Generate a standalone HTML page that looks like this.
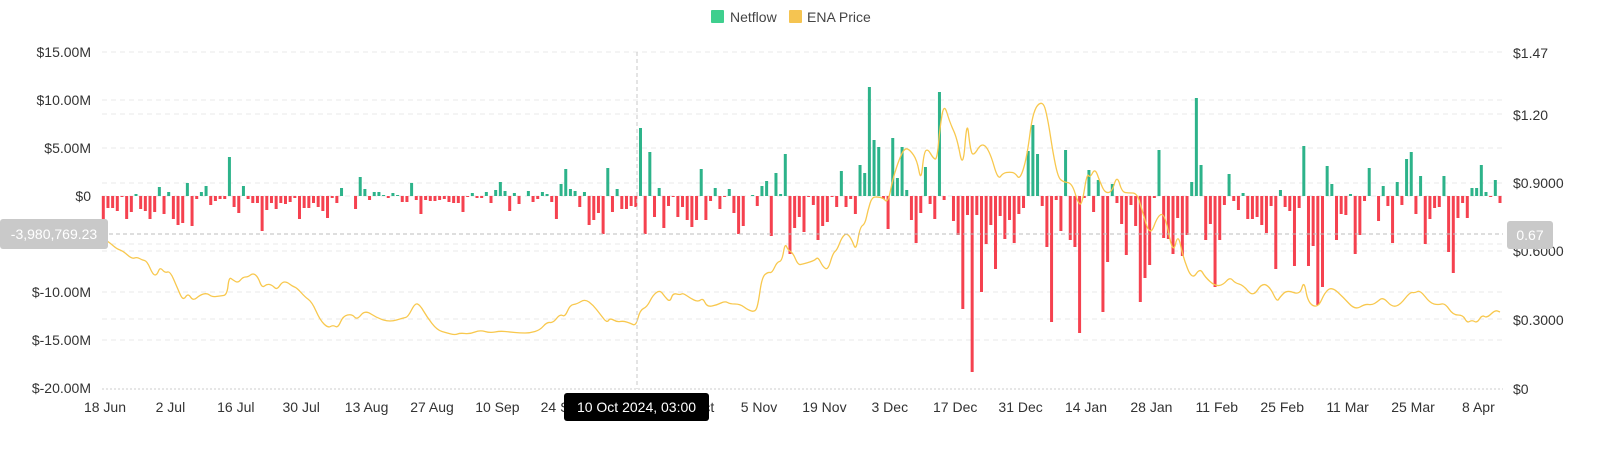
<!DOCTYPE html>
<html><head><meta charset="utf-8">
<style>
html,body{margin:0;padding:0;background:#fff;}
body{width:1600px;height:454px;overflow:hidden;font-family:"Liberation Sans",sans-serif;}
svg text{font-family:"Liberation Sans",sans-serif;}
</style></head>
<body>
<svg id="c" width="1600" height="454" viewBox="0 0 1600 454" xmlns="http://www.w3.org/2000/svg">
<g id="grid"></g>
<g id="bars"></g>
<path id="price" fill="none" stroke="#f8c84e" stroke-width="1.3" stroke-linejoin="round"/>
<g id="labels" font-size="14" fill="#333"></g>
<!-- legend -->
<rect x="711" y="10" width="13" height="13" fill="#3ecf8e" rx="1"/>
<text x="730" y="22" font-size="14" fill="#444">Netflow</text>
<rect x="789" y="10" width="13" height="13" fill="#f5c451" rx="1"/>
<text x="807" y="22" font-size="14" fill="#444">ENA Price</text>
<!-- crosshair -->
<line x1="637" y1="52" x2="637" y2="389" stroke="#c8c8c8" stroke-dasharray="4,3" stroke-width="1"/>
<line x1="102" y1="234" x2="1503" y2="234" stroke="#bdbdbd" stroke-dasharray="4,3" stroke-width="1"/>
<rect x="0" y="219" width="108" height="30" rx="3" fill="#c9c9c9"/>
<text x="54" y="239" font-size="14" fill="#fff" text-anchor="middle">-3,980,769.23</text>
<rect x="1507" y="221" width="46" height="28" rx="3" fill="#c9c9c9"/>
<text x="1530" y="240" font-size="14" fill="#fff" text-anchor="middle">0.67</text>
<g id="tip"></g>
</svg>
<script>
var NS="http://www.w3.org/2000/svg";
function el(t,a,p,txt){var e=document.createElementNS(NS,t);for(var k in a)e.setAttribute(k,a[k]);if(txt!=null)e.textContent=txt;document.getElementById(p).appendChild(e);return e;}
// grid
[52,100,114,148,183,196,244,251,292,319,340].forEach(function(y){
 el('line',{x1:102,x2:1503,y1:y,y2:y,stroke:'#e8e8e8','stroke-dasharray':'5,4','stroke-width':1},'grid');});
el('line',{x1:102,x2:1503,y1:389,y2:389,stroke:'#dedede','stroke-dasharray':'2,2','stroke-width':1.5},'grid');
// bars (pixel heights, + up)
var h=[-24,-12,-12,-15,-1,-23,-16,2,-13,-15,-23,-16,9,-18,4,-23,-29,-27,13,-30,-3,4,10,-9,-5,-3,-3,39,-11,-17,10,-3,-7,-7,-35,-14,-7,-13,-7,-8,-6,-2,-23,-12,-12,-7,-11,-15,-22,-2,-7,8,0,0,-13,19,7,-4,4,4,1,-2,3,1,-6,-6,13,-4,-18,-4,-5,-5,-4,-3,-6,-7,-7,
-16,-1,3,-2,-2,4,-7,6,14,5,-15,3,-8,0,5,-6,-3,4,2,-6,-23,12,27,7,5,-11,4,-29,-24,-17,-38,28,-16,7,-13,-13,-10,-11,68,-38,44,-21,8,-32,-10,-1,-21,-11,-24,-31,-24,27,-24,-5,8,-13,-1,7,-17,-38,-30,0,1,-10,10,15,-40,23,2,42,-58,-32,-21,-36,-1,
-9,-44,-30,-26,-1,-11,25,-11,-3,-18,31,23,109,56,49,-3,-33,58,18,49,6,-24,-47,-17,29,-8,-23,104,-4,0,-25,-39,-113,-19,-176,-19,-96,-48,-29,-73,-20,-43,-24,-47,-18,-12,45,71,42,-10,-51,-126,-4,-35,46,-44,-51,-137,-2,26,-16,16,-116,-66,12,-7,-28,-59,-9,-30,-106,-82,-69,-2,46,-42,-43,-58,-22,-60,-39,14,98,
31,-44,-28,-91,-44,-9,22,-5,-14,3,-23,-23,-21,-29,-37,-10,-73,6,-11,-15,-70,-12,50,-70,-50,-109,-91,30,12,-44,-18,-19,2,-58,-39,-5,28,0,-25,10,-10,-47,14,-9,37,44,-18,20,-48,-23,-12,-11,20,-56,-77,-22,-7,-22,8,8,31,4,-1,16,-7];
var step=(1500-103.3)/(h.length-1);
h.forEach(function(v,i){
 if(v===0)return;var cx=103.3+i*step;
 if(v>0)el('rect',{x:(cx-1.5).toFixed(2),y:196-v,width:3,height:v,fill:'#2db38a'},'bars');
 else el('rect',{x:(cx-1.5).toFixed(2),y:196,width:3,height:-v,fill:'#f5414f'},'bars');
});
// price
var p=[103,238,110,243,117,249,123,251,132,259,137,257,142,260,147,261,153,275,157,275,160,267,165,273,170,271,177,287,183,301,188,293,193,301,200,295,207,293,212,297,220,296,227,295,229,277,233,280,238,283,243,277,248,277,253,273,258,277,262,288,267,284,272,285,277,290,282,282,287,282,292,286,297,288,305,297,312,302,320,320,328,328,333,325,338,328,343,316,352,314,357,320,365,310,377,318,390,322,403,318,408,317,415,303,420,305,427,317,437,330,447,333,455,335,460,333,
470,334,480,330,490,333,500,331,510,332,520,333,530,333,540,330,547,322,553,323,560,314,565,317,570,305,577,304,585,299,593,305,600,314,607,323,610,318,617,322,623,321,630,323,636,326,640,310,647,307,653,295,660,290,665,297,670,302,673,293,680,295,683,293,690,298,698,302,703,298,707,307,717,305,725,301,730,304,740,304,748,310,755,312,758,305,762,277,768,272,772,273,777,262,782,261,785,243,788,250,793,253,798,265,803,264,810,262,
815,260,818,257,823,267,828,270,833,253,837,250,842,237,847,233,852,240,856,251,860,227,865,224,868,210,872,197,878,197,883,198,888,203,893,178,900,157,905,148,910,150,917,160,921,182,924,152,928,149,933,158,937,160,940,127,944,103,950,123,957,138,963,170,967,119,970,147,973,157,982,142,990,152,998,180,1003,173,1010,172,1015,173,1020,180,1027,157,1033,110,1043,100,1048,120,1053,153,1058,177,1063,182,1072,183,1078,203,1082,205,1087,173,1090,178,1095,168,1100,182,1105,193,1112,192,1117,175,1122,192,1128,193,1137,193,1142,210,1150,237,1158,215,1165,214,1173,255,1178,233,1183,257,1192,280,1200,268,
1205,277,1215,286,1223,285,1230,277,1235,283,1243,285,1253,297,1262,283,1270,287,1277,302,1280,297,1287,290,1300,295,1304,280,1308,303,1318,308,1325,292,1332,287,1343,297,1355,310,1365,304,1372,305,1377,302,1383,297,1392,307,1400,305,1410,292,1415,293,1420,290,1430,303,1438,305,1445,303,1453,315,1463,315,1467,323,1472,320,1477,323,1482,315,1487,318,1495,310,1500,312];
var d='M'+p[0]+','+p[1];
for(var i=2;i<p.length;i+=2){var mx=(p[i-2]+p[i])/2;d+=' Q'+p[i-2]+','+p[i-1]+' '+mx+','+((p[i-1]+p[i+1])/2);}
d+=' L'+p[p.length-2]+','+p[p.length-1];
document.getElementById('price').setAttribute('d',d);
// left axis
[['$15.00M',52],['$10.00M',100],['$5.00M',148],['$0',196],['$-10.00M',292],['$-15.00M',340],['$-20.00M',388]].forEach(function(a){
 el('text',{x:91,y:a[1]+5,'text-anchor':'end'},'labels',a[0]);});
[['$1.47',53],['$1.20',115],['$0.9000',183],['$0.6000',251],['$0.3000',320],['$0',389]].forEach(function(a){
 el('text',{x:1513,y:a[1]+5},'labels',a[0]);});
var xl=['18 Jun','2 Jul','16 Jul','30 Jul','13 Aug','27 Aug','10 Sep','24 Sep','8 Oct','22 Oct','5 Nov','19 Nov','3 Dec','17 Dec','31 Dec','14 Jan','28 Jan','11 Feb','25 Feb','11 Mar','25 Mar','8 Apr'];
xl.forEach(function(t,k){el('text',{x:(105+k*65.4).toFixed(1),y:412,'text-anchor':'middle'},'labels',t);});
// bottom tooltip
el('rect',{x:564,y:393,width:145,height:28,rx:3,fill:'#000'},'tip');
el('text',{x:636.5,y:412,'text-anchor':'middle','font-size':14,fill:'#fff'},'tip','10 Oct 2024, 03:00');
</script>
</body></html>
